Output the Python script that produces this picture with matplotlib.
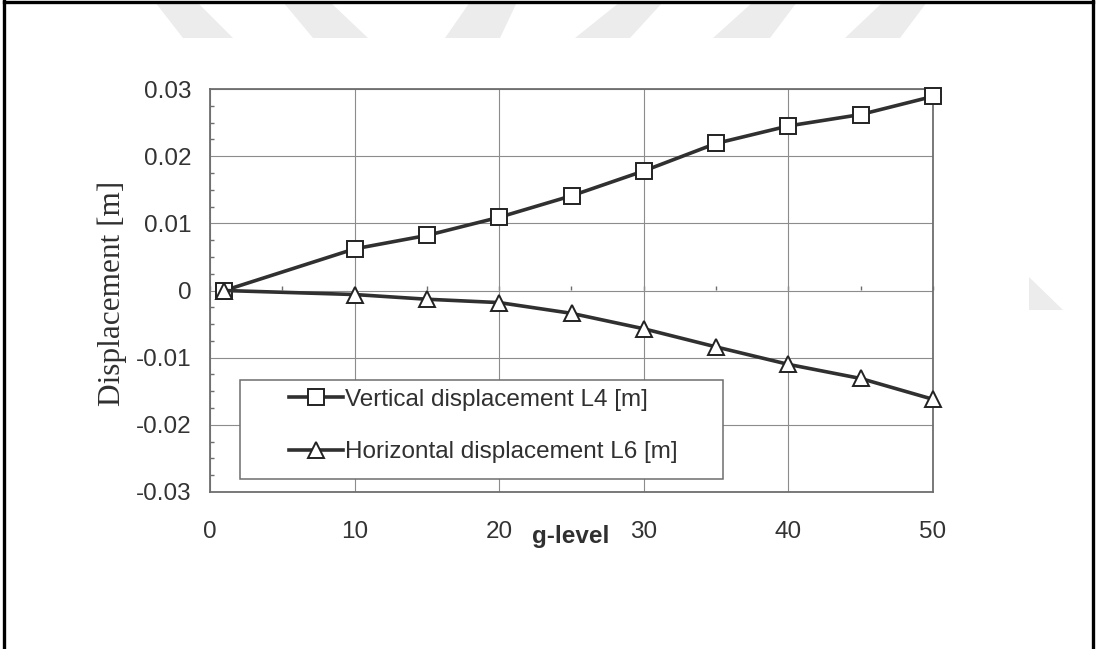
"""Centrifuge test: L4 vertical / L6 horizontal displacement vs g-level -> out.png"""

import matplotlib
matplotlib.use("Agg")
import matplotlib.pyplot as plt
from matplotlib.lines import Line2D
from matplotlib.patches import Polygon, Rectangle
from matplotlib.ticker import AutoMinorLocator, MultipleLocator, NullFormatter

# values
g_level = [1, 10, 15, 20, 25, 30, 35, 40, 45, 50]
vert_l4 = [0.0, 0.0062, 0.0082, 0.0109, 0.0141, 0.0178, 0.0219, 0.0245,
           0.0262, 0.0289]
horiz_l6 = [0.0, -0.0006, -0.0013, -0.0018, -0.0034, -0.0057, -0.0084,
            -0.0110, -0.0131, -0.0162]
x_ticks = [0, 10, 20, 30, 40, 50]
y_ticks = [-0.03, -0.02, -0.01, 0, 0.01, 0.02, 0.03]
y_labels = ["-0.03", "-0.02", "-0.01", "0", "0.01", "0.02", "0.03"]

INK, TICK, FRAME, GRID, WM = "#303030", "#333333", "#6e6e6e", "#8c8c8c", "#ececec"
W, H = 1096, 649

plt.rcParams["font.family"] = ["Liberation Sans", "DejaVu Sans"]


def px(x, y):
    # pixel (from top-left) -> figure fraction
    return x / W, 1 - y / H


fig = plt.figure(figsize=(W / 100, H / 100), dpi=100, facecolor="white")

# faint watermark stripes along the top + corner triangle on the right
stripes = [
    [(155, 2), (197, 2), (233, 38), (183, 38)],
    [(283, 2), (330, 2), (368, 38), (313, 38)],
    [(470, 2), (517, 2), (500, 38), (445, 38)],
    [(620, 2), (663, 2), (630, 38), (575, 38)],
    [(753, 2), (797, 2), (770, 38), (713, 38)],
    [(883, 2), (927, 2), (900, 38), (845, 38)],
    [(1029, 277), (1029, 310), (1063, 310)],
]
for pts in stripes:
    fig.patches.append(Polygon([px(*p) for p in pts], closed=True,
                               transform=fig.transFigure, facecolor=WM,
                               edgecolor="none", zorder=0))

# page frame (left, top, right; bottom is cropped off)
for xs, ys in (((4, 4), (1, H)), ((4, 1093), (1.5, 1.5)), ((1093, 1093), (1, H))):
    a, b = px(xs[0], ys[0]), px(xs[1], ys[1])
    fig.add_artist(Line2D([a[0], b[0]], [a[1], b[1]], color="black",
                          linewidth=2.4, transform=fig.transFigure))

l, t = px(210, 89)
r, b = px(933, 492)
ax = fig.add_axes([l, b, r - l, t - b])
ax.set_facecolor("none")

ax.plot(g_level, vert_l4, color=INK, linewidth=2.6, marker="s",
        markersize=12, markerfacecolor="white", markeredgecolor="#222222",
        markeredgewidth=1.4, label="Vertical displacement L4 [m]", zorder=5,
        clip_on=False)
ax.plot(g_level, horiz_l6, color=INK, linewidth=2.6, marker="^",
        markersize=11.5, markerfacecolor="white", markeredgecolor="#222222",
        markeredgewidth=1.4, label="Horizontal displacement L6 [m]", zorder=5,
        clip_on=False)

ax.set_xlim(0, 50)
ax.set_ylim(-0.03, 0.03)
ax.set_xticks(x_ticks)
ax.set_yticks(y_ticks, y_labels)
ax.grid(True, color=GRID, linewidth=0.8)
ax.set_axisbelow(True)
for s in ax.spines.values():
    s.set_color(FRAME)
    s.set_linewidth(1.3)
ax.tick_params(axis="both", length=0, labelsize=17.5, colors=TICK)
ax.tick_params(axis="x", pad=21)
ax.tick_params(axis="y", pad=13)
ax.yaxis.set_minor_locator(AutoMinorLocator(4))
ax.tick_params(axis="y", which="minor", direction="in", length=3,
               color=FRAME, width=1)

# Excel draws the category ticks on the zero line (pointing up)
zero = ax.secondary_xaxis(0.5)
zero.xaxis.set_major_locator(MultipleLocator(5))
zero.xaxis.set_major_formatter(NullFormatter())
zero.tick_params(direction="out", length=3, color=FRAME, width=1,
                 labelbottom=False, labeltop=False)
for s in zero.spines.values():
    s.set_visible(False)

# legend: white box over the grid, entries placed inside
bx0, by0 = px(240, 479)
bx1, by1 = px(723, 380)
ax.add_patch(Rectangle((bx0, by0), bx1 - bx0, by1 - by0,
                       transform=fig.transFigure, facecolor="white",
                       edgecolor=FRAME, linewidth=1.1, zorder=3,
                       clip_on=False))
leg = ax.legend(loc="center left", bbox_to_anchor=px(277, 426),
                bbox_transform=fig.transFigure, frameon=False, fontsize=17.5,
                borderpad=0, handlelength=2.2, handletextpad=0.1,
                labelspacing=1.25, labelcolor=INK)
leg.set_zorder(6)

fig.text(*px(112, 293), "Displacement [m]", rotation=90, ha="center",
         va="center", fontsize=22.5, color=INK,
         family=["Liberation Serif", "DejaVu Serif"])
fig.text(*px(571, 543), "g-level", ha="center", va="baseline", fontsize=17.5,
         fontweight="bold", color=INK)

fig.savefig("out.png", dpi=100, facecolor="white")
